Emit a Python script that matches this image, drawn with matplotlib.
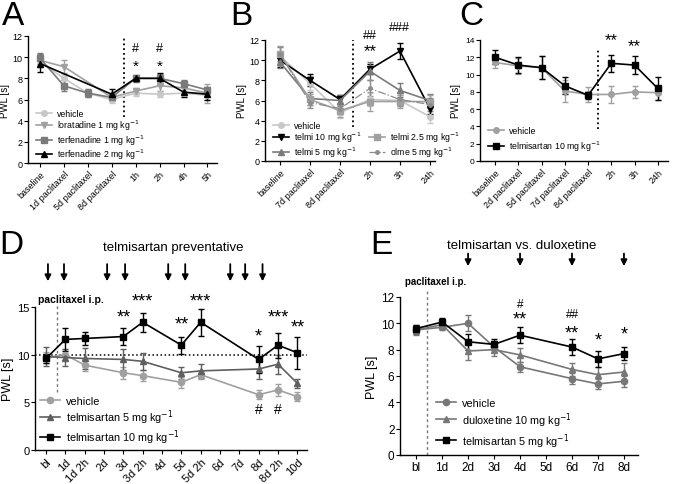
import matplotlib
matplotlib.use('Agg')  # Headless backend

import matplotlib.pyplot as plt
import numpy as np

plt.rcParams['font.family'] = ['Liberation Sans', 'DejaVu Sans']
plt.rcParams['axes.linewidth'] = 1.0

W, H = 677, 485
nan = np.nan

# ---- Panel A data ----
a_labels = ['baseline', '1d paclitaxel', '5d paclitaxel', '8d paclitaxel', '1h', '2h', '4h', '5h']
a_vehicle = [9.6, 8.0, 6.6, 6.0, 6.6, 6.5, 6.6, 6.4]
a_vehicle_err = [0.4, 0.4, 0.4, 0.3, 0.3, 0.3, 0.3, 0.4]
a_lora = [9.7, 9.1, nan, 6.2, 6.8, 7.3, 7.1, 6.6]
a_lora_err = [0.6, 0.6, nan, 0.3, 0.3, 0.5, 0.4, 0.9]
a_terf1 = [9.9, 7.3, 6.6, 6.2, 8.0, 8.0, 7.5, 6.9]
a_terf1_err = [0.5, 0.5, 0.4, 0.3, 0.3, 0.4, 0.3, 0.3]
a_terf2 = [9.4, nan, nan, 6.5, 8.0, 8.0, 6.7, 6.5]
a_terf2_err = [0.8, nan, nan, 0.5, 0.25, 0.5, 0.5, 0.5]

# ---- Panel B data ----
b_labels = ['baseline', '7d paclitaxel', '8d paclitaxel', '2h', '3h', '24h']
b_vehicle = [10.4, 7.7, 4.8, 6.1, 6.0, 4.4]
b_vehicle_err = [0.9, 0.7, 0.5, 0.6, 0.5, 0.6]
b_telmi10 = [10.0, 8.0, 6.1, 9.1, 10.9, 5.2]
b_telmi10_err = [0.7, 0.6, 0.4, 0.5, 0.8, 0.5]
b_telmi5 = [9.8, 6.2, 6.0, 8.9, 7.0, 6.0]
b_telmi5_err = [0.6, 0.6, 0.5, 0.9, 0.7, 0.6]
b_telmi25 = [10.6, 6.1, 5.0, 5.9, 5.9, 5.9]
b_telmi25_err = [0.8, 0.5, 0.6, 0.9, 0.6, 0.6]
b_olme = [10.6, 5.8, 5.2, 7.2, 6.1, 5.6]
b_olme_err = [0.7, 0.5, 0.5, 0.8, 0.6, 0.6]

# ---- Panel C data ----
c_labels = ['baseline', '2d paclitaxel', '5d paclitaxel', '7d paclitaxel', '8d paclitaxel', '2h', '3h', '24h']
c_vehicle = [11.4, 11.0, 10.8, 8.1, 7.7, 7.7, 8.0, 7.9]
c_vehicle_err = [0.6, 0.9, 1.3, 1.3, 0.9, 1.0, 0.7, 0.8]
c_telmi10 = [12.0, 11.1, 10.8, 8.7, 7.6, 11.3, 11.1, 8.4]
c_telmi10_err = [0.8, 0.9, 1.3, 1.0, 0.4, 1.0, 1.0, 1.3]

# ---- Panel D data ----
d_labels = ['bl', '1d', '1d 2h', '2d', '3d', '3d 2h', '4d', '5d', '5d 2h', '6d', '7d', '8d', '8d 2h', '10d']
d_vehicle = [9.7, 10.0, 8.9, nan, 8.1, 7.8, nan, 7.1, 7.9, nan, nan, 5.8, 6.3, 5.6]
d_vehicle_err = [0.6, 0.6, 0.6, nan, 0.6, 0.6, nan, 0.6, 0.4, nan, nan, 0.5, 0.6, 0.5]
d_telmi5 = [9.8, 9.7, 9.6, nan, 9.5, 9.3, nan, 8.1, 8.3, nan, nan, 8.5, 9.0, 7.0]
d_telmi5_err = [1.0, 0.9, 1.1, nan, 1.1, 0.9, nan, 0.6, 0.7, nan, nan, 1.0, 1.0, 0.5]
d_telmi10 = [9.6, 11.6, 11.7, nan, 11.9, 13.4, nan, 11.0, 13.4, nan, nan, 9.5, 11.0, 10.2]
d_telmi10_err = [0.5, 1.2, 0.7, nan, 0.9, 1.0, nan, 0.9, 1.4, nan, nan, 1.4, 1.3, 1.7]

# ---- Panel E data ----
e_labels = ['bl', '1d', '2d', '3d', '4d', '5d', '6d', '7d', '8d']
e_vehicle = [9.5, 9.7, 10.0, 8.2, 6.7, nan, 5.8, 5.4, 5.6]
e_vehicle_err = [0.4, 0.2, 0.6, 0.4, 0.4, nan, 0.4, 0.4, 0.4]
e_dulox = [9.5, 9.9, 7.9, 8.0, 7.6, nan, 6.5, 6.1, 6.3]
e_dulox_err = [0.3, 0.3, 0.7, 0.5, 0.5, nan, 0.5, 0.6, 0.7]
e_telmi5 = [9.6, 10.1, 8.6, 8.4, 9.1, nan, 8.2, 7.3, 7.7]
e_telmi5_err = [0.3, 0.3, 0.6, 0.4, 0.6, nan, 0.6, 0.6, 0.5]


def rect(l, t, r, b):
    return [l / W, 1 - b / H, (r - l) / W, (b - t) / H]


def series(ax, y, err, color, marker, label, ls='-', ms=4, lw=1.2):
    y = np.asarray(y, float)
    err = np.asarray(err, float)
    x = np.arange(len(y))
    ok = ~np.isnan(y)
    ax.errorbar(x[ok], y[ok], yerr=err[ok], fmt='none', ecolor=color,
                elinewidth=1.0, capsize=2.2, capthick=1.0, zorder=2)
    ax.plot(x[ok], y[ok], color=color, marker=marker, ms=ms, lw=lw, ls=ls,
            label=label, zorder=3)


def style(ax, labels, xlim, ylim, yticks, rot=45, fs=6.5, yfs=7, lpad=2, ytfs=None):
    for s in ['top', 'right']:
        ax.spines[s].set_visible(False)
    ax.set_xlim(xlim)
    ax.set_ylim(ylim)
    ax.set_yticks(yticks)
    ax.set_xticks(range(len(labels)))
    if rot:
        ax.set_xticklabels(labels, rotation=rot, ha='right', rotation_mode='anchor', fontsize=fs)
    else:
        ax.set_xticklabels(labels, fontsize=fs)
    ax.tick_params(axis='y', labelsize=ytfs or fs, length=3, pad=1)
    ax.tick_params(axis='x', length=3, pad=1.5)
    ax.set_ylabel('PWL [s]', fontsize=yfs, labelpad=lpad)


def small_legend(ax, handles=None, labels=None, **kw):
    opts = dict(loc='lower left', frameon=False, handlelength=1.8, handletextpad=0.6,
                borderaxespad=0.2, borderpad=0.3)
    opts.update(kw)
    if handles is None:
        return ax.legend(**opts)
    return ax.legend(handles, labels, **opts)


fig = plt.figure(figsize=(W / 100, H / 100), dpi=100)
fig.patch.set_facecolor('white')

# ================= A =================
ax = fig.add_axes(rect(28, 37, 217, 164))
series(ax, a_vehicle, a_vehicle_err, '#c8c8c8', 'o', 'vehicle')
series(ax, a_lora, a_lora_err, '#a0a0a0', 'v', 'loratadine 1 mg kg$^{-1}$')
series(ax, a_terf1, a_terf1_err, '#7a7a7a', 's', 'terfenadine 1 mg kg$^{-1}$')
series(ax, a_terf2, a_terf2_err, '#000000', '^', 'terfenadine 2 mg kg$^{-1}$')
style(ax, a_labels, (-0.5, 7.4), (0, 12), range(0, 13, 2))
ax.vlines(3.5, 4.3, 12, colors='k', linestyles=':', lw=1.3)
for xi in [4, 5]:
    ax.text(xi, 10.9, '#', ha='center', va='center', fontsize=9)
    ax.text(xi, 9.2, '*', ha='center', va='center', fontsize=11)
small_legend(ax, bbox_to_anchor=(0.02, -0.02), fontsize=6.3, labelspacing=0.0)
fig.text(2 / W, 1 - 1 / H, 'A', fontsize=24, va='top', ha='left')

# ================= B =================
ax = fig.add_axes(rect(265, 41, 435, 162))
series(ax, b_vehicle, b_vehicle_err, '#c8c8c8', 'o', 'vehicle')
series(ax, b_telmi10, b_telmi10_err, '#000000', 'v', 'telmi 10 mg kg$^{-1}$')
series(ax, b_telmi5, b_telmi5_err, '#7a7a7a', '^', 'telmi 5 mg kg$^{-1}$')
series(ax, b_telmi25, b_telmi25_err, '#a0a0a0', 's', 'telmi 2.5 mg kg$^{-1}$')
series(ax, b_olme, b_olme_err, '#8c8c8c', 'o', 'olme 5 mg kg$^{-1}$', ls='-.', ms=2.5, lw=0.9)
style(ax, b_labels, (-0.5, 5.17), (0, 12), range(0, 13, 2))
ax.vlines(2.43, 3.4, 12, colors='k', linestyles=':', lw=1.3)
ax.text(3, 10.9, '**', ha='center', va='center', fontsize=12)
ax.text(3, 12.5, '##', ha='center', va='center', fontsize=9)
ax.text(4, 13.3, '###', ha='center', va='center', fontsize=9)
h, l = ax.get_legend_handles_labels()
blank = plt.Line2D([], [], color='none')
small_legend(ax, [h[0], h[1], h[2], blank, h[3], h[4]], [l[0], l[1], l[2], '', l[3], l[4]],
             ncol=2, bbox_to_anchor=(0.02, -0.02), fontsize=6.3, labelspacing=0.02,
             columnspacing=0.9)
fig.text(230 / W, 1 - 1 / H, 'B', fontsize=24, va='top', ha='left')

# ================= C =================
ax = fig.add_axes(rect(480, 41, 668, 162))
series(ax, c_vehicle, c_vehicle_err, '#a0a0a0', 'o', 'vehicle')
series(ax, c_telmi10, c_telmi10_err, '#000000', 's', 'telmisartan 10 mg kg$^{-1}$')
style(ax, c_labels, (-0.65, 7.44), (0, 14), range(0, 15, 2), ytfs=6, lpad=3)
ax.vlines(4.43, 3.7, 13.0, colors='k', linestyles=':', lw=1.3)
ax.text(5, 14.0, '**', ha='center', va='center', fontsize=12)
ax.text(6, 13.4, '**', ha='center', va='center', fontsize=12)
small_legend(ax, bbox_to_anchor=(0.02, 0.03), fontsize=6.3, labelspacing=0.45)
fig.text(459 / W, 1 - 1 / H, 'C', fontsize=24, va='top', ha='left')

# ================= D =================
ax = fig.add_axes(rect(35, 308, 307, 451))
series(ax, d_vehicle, d_vehicle_err, '#a0a0a0', 'o', 'vehicle', ms=4.5)
series(ax, d_telmi5, d_telmi5_err, '#5f5f5f', '^', 'telmisartan 5 mg kg$^{-1}$', ms=4.5)
series(ax, d_telmi10, d_telmi10_err, '#000000', 's', 'telmisartan 10 mg kg$^{-1}$', ms=4.5)
style(ax, d_labels, (-0.57, 13.5), (0, 15), [0, 5, 10, 15], fs=8, yfs=9)
ax.axhline(10, color='k', ls=':', lw=1.1, zorder=1)
ax.vlines(0.55, 6.1, 15.2, colors='#777777', linestyles=(0, (2, 2)), lw=1.0, clip_on=False)
d_stars = [(4, 14.0, '**'), (5, 15.6, '***'), (7, 13.2, '**'), (8, 15.6, '***'),
           (11, 12.0, '*'), (12, 14.0, '***'), (13, 12.9, '**')]
for xi, yi, s in d_stars:
    ax.text(xi, yi, s, ha='center', va='center', fontsize=13, clip_on=False)
for xi in [11, 12]:
    ax.text(xi, 4.3, '#', ha='center', va='center', fontsize=10)
for xa in [0.1, 0.93, 3.16, 4.09, 6.32, 7.2, 9.53, 10.3, 11.2]:
    ax.annotate('', xy=(xa, 1.18), xytext=(xa, 1.30), xycoords=ax.get_xaxis_transform(),
                arrowprops=dict(arrowstyle='-|>', color='k', lw=1.3, mutation_scale=9,
                                shrinkA=0, shrinkB=0))
ax.text(0.01, 1.055, 'paclitaxel i.p.', transform=ax.transAxes, fontsize=7.5,
        fontweight='bold', ha='left', va='center')
small_legend(ax, bbox_to_anchor=(0.0, -0.01), fontsize=7.8, labelspacing=0.12)
fig.text(173 / W, 1 - 248 / H, 'telmisartan preventative', fontsize=9.5, ha='center', va='center')
fig.text(-1 / W, 1 - 230 / H, 'D', fontsize=24, va='top', ha='left')

# ================= E =================
ax = fig.add_axes(rect(400, 298, 638, 456))
series(ax, e_vehicle, e_vehicle_err, '#777777', 'o', 'vehicle', ms=4.5)
series(ax, e_dulox, e_dulox_err, '#777777', '^', 'duloxetine 10 mg kg$^{-1}$', ms=4.5)
series(ax, e_telmi5, e_telmi5_err, '#000000', 's', 'telmisartan 5 mg kg$^{-1}$', ms=4.5)
style(ax, e_labels, (-0.62, 8.54), (0, 12), range(0, 13, 2), rot=0, fs=8.5, yfs=9)
ax.vlines(0.42, 0, 12.6, colors='#777777', linestyles=(0, (2, 2)), lw=1.0, clip_on=False)
e_stars = [(4, 10.3, '**'), (6, 9.3, '**'), (7, 8.7, '*'), (8, 9.2, '*')]
for xi, yi, s in e_stars:
    ax.text(xi, yi, s, ha='center', va='center', fontsize=13)
ax.text(4, 11.5, '#', ha='center', va='center', fontsize=8.5)
ax.text(6, 10.7, '##', ha='center', va='center', fontsize=8.5)
for xa in [2, 4, 6, 8]:
    ax.annotate('', xy=(xa, 1.195), xytext=(xa, 1.275), xycoords=ax.get_xaxis_transform(),
                arrowprops=dict(arrowstyle='-|>', color='k', lw=1.3, mutation_scale=9,
                                shrinkA=0, shrinkB=0))
ax.text(0.02, 1.10, 'paclitaxel i.p.', transform=ax.transAxes, fontsize=7,
        fontweight='bold', ha='left', va='center')
small_legend(ax, bbox_to_anchor=(0.13, 0.0), fontsize=7.8, labelspacing=0.22)
fig.text(522 / W, 1 - 246 / H, 'telmisartan vs. duloxetine', fontsize=9.5, ha='center', va='center')
fig.text(370 / W, 1 - 230 / H, 'E', fontsize=24, va='top', ha='left')

plt.savefig('out.png', dpi=100)
plt.close()
